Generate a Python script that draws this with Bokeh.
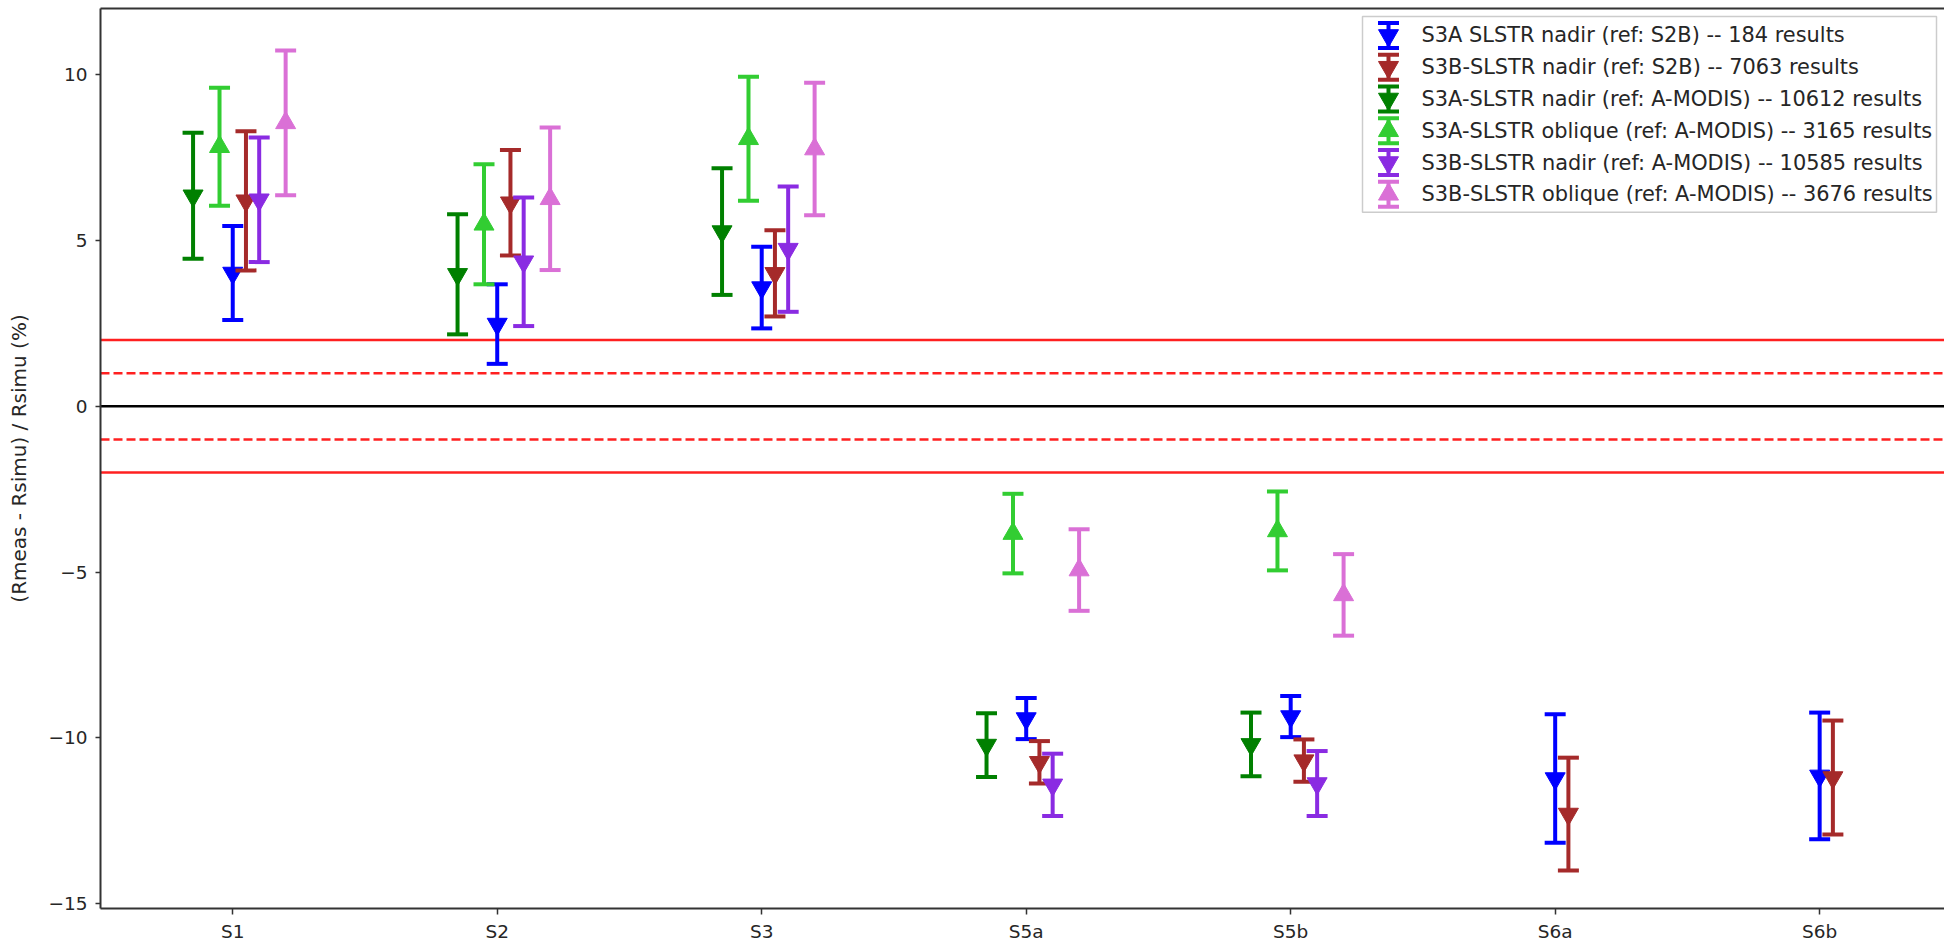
from bokeh.plotting import figure
from bokeh.models import Range1d, FixedTicker, LinearAxis, Span
from bokeh.core.properties import value
from bokeh.embed import file_html
from bokeh.resources import INLINE

# ---- data -----------------------------------------------------------------
bands = ["S1", "S2", "S3", "S5a", "S5b", "S6a", "S6b"]
y_ticks = [-15, -10, -5, 0, 5, 10]
y_tick_labels = ["\u221215", "\u221210", "\u22125", "0", "5", "10"]

all_bands = ["S1", "S2", "S3", "S5a", "S5b", "S6a", "S6b"]
vis_bands = ["S1", "S2", "S3", "S5a", "S5b"]

# S3A SLSTR nadir vs S2B
s3a_s2b_mean = [4.02, 2.48, 3.58, -9.42, -9.36, -11.23, -11.15]
s3a_s2b_err = [1.42, 1.20, 1.23, 0.62, 0.62, 1.94, 1.91]
# S3B SLSTR nadir vs S2B
s3b_s2b_mean = [6.20, 6.14, 4.01, -10.74, -10.69, -12.30, -11.20]
s3b_s2b_err = [2.10, 1.59, 1.30, 0.64, 0.64, 1.70, 1.72]
# S3A SLSTR nadir vs Aqua-MODIS
s3a_nad_modis_mean = [6.35, 3.98, 5.27, -10.22, -10.20]
s3a_nad_modis_err = [1.90, 1.81, 1.91, 0.96, 0.96]
# S3A SLSTR oblique vs Aqua-MODIS
s3a_obl_modis_mean = [7.83, 5.49, 8.07, -3.84, -3.76]
s3a_obl_modis_err = [1.78, 1.81, 1.87, 1.20, 1.19]
# S3B SLSTR nadir vs Aqua-MODIS
s3b_nad_modis_mean = [6.23, 4.36, 4.74, -11.42, -11.38]
s3b_nad_modis_err = [1.88, 1.94, 1.89, 0.94, 0.98]
# S3B SLSTR oblique vs Aqua-MODIS
s3b_obl_modis_mean = [8.55, 6.26, 7.76, -4.94, -5.69]
s3b_obl_modis_err = [2.18, 2.15, 2.00, 1.23, 1.23]

series = [
    ("S3A SLSTR nadir (ref: S2B) -- 184 results", all_bands, s3a_s2b_mean, s3a_s2b_err,
     "#0000ff", "inverted_triangle", 0.0),
    ("S3B-SLSTR nadir (ref: S2B) -- 7063 results", all_bands, s3b_s2b_mean, s3b_s2b_err,
     "#a52a2a", "inverted_triangle", 0.05),
    ("S3A-SLSTR nadir (ref: A-MODIS) -- 10612 results", vis_bands, s3a_nad_modis_mean, s3a_nad_modis_err,
     "#008000", "inverted_triangle", -0.15),
    ("S3A-SLSTR oblique (ref: A-MODIS) -- 3165 results", vis_bands, s3a_obl_modis_mean, s3a_obl_modis_err,
     "#32cd32", "triangle", -0.05),
    ("S3B-SLSTR nadir (ref: A-MODIS) -- 10585 results", vis_bands, s3b_nad_modis_mean, s3b_nad_modis_err,
     "#8a2be2", "inverted_triangle", 0.10),
    ("S3B-SLSTR oblique (ref: A-MODIS) -- 3676 results", vis_bands, s3b_obl_modis_mean, s3b_obl_modis_err,
     "#da70d6", "triangle", 0.20),
]

FONT = "DejaVu Sans"
TEXT = "#262626"
SPINE = "#333333"

W, H = 1944, 944
B_LEFT, B_TOP, B_BOTTOM = 100, 8, 35
FRAME_W, FRAME_H = W - B_LEFT, H - B_TOP - B_BOTTOM

p = figure(width=W, height=H, output_backend="svg", toolbar_location=None,
           x_range=Range1d(-0.5, 6.472), y_range=Range1d(-15.15, 12.0),
           min_border_left=B_LEFT, min_border_right=0,
           min_border_top=B_TOP, min_border_bottom=B_BOTTOM,
           background_fill_color="white", border_fill_color="white",
           outline_line_color=None)
p.grid.visible = False

# pixel-like ranges used for the legend block (origin at the frame's top-left)
p.extra_x_ranges = {"px": Range1d(0, FRAME_W)}
p.extra_y_ranges = {"px": Range1d(FRAME_H, 0)}

# ---- axes -------------------------------------------------------------------
xa = p.xaxis[0]
xa.ticker = FixedTicker(ticks=list(range(len(bands))))
xa.major_label_overrides = {i: b for i, b in enumerate(bands)}
ya = p.yaxis[0]
ya.ticker = FixedTicker(ticks=y_ticks)
ya.major_label_overrides = {t: l for t, l in zip(y_ticks, y_tick_labels)}
ya.axis_label = "(Rmeas - Rsimu) / Rsimu (%)"
ya.axis_label_text_font = FONT
ya.axis_label_text_font_size = "20px"
ya.axis_label_text_font_style = "normal"
ya.axis_label_text_color = TEXT
ya.axis_label_standoff = 14

for ax, out, stand in ((xa, 6, 6), (ya, 5, 8)):
    ax.axis_line_color = SPINE
    ax.axis_line_width = 2
    ax.major_tick_line_color = SPINE
    ax.major_tick_line_width = 1.5
    ax.major_tick_in = 0
    ax.major_tick_out = out
    ax.minor_tick_line_color = None
    ax.major_label_standoff = stand
    ax.major_label_text_font = FONT
    ax.major_label_text_font_size = "18.5px"
    ax.major_label_text_color = TEXT

top = LinearAxis(ticker=FixedTicker(ticks=[]), axis_line_color=SPINE, axis_line_width=2,
                 major_tick_line_color=None, minor_tick_line_color=None,
                 major_label_text_font_size="0px")
p.add_layout(top, "above")

# ---- reference lines ------------------------------------------------------
for loc, color, dash in ((2, "#ff2020", "solid"), (-2, "#ff2020", "solid"),
                         (1, "#ff2020", "9 4"), (-1, "#ff2020", "9 4"),
                         (0, "#000000", "solid")):
    p.add_layout(Span(location=loc, dimension="width", line_color=color,
                      line_width=2.5, line_dash=dash, level="underlay"))


def errorbars(xs, ys, lo, hi, color, marker, **rng):
    p.segment(x0=xs, y0=lo, x1=xs, y1=hi, line_color=color, line_width=4, **rng)
    p.scatter(x=xs + xs, y=lo + hi, marker="dash", size=21, line_color=color,
              line_width=4, **rng)
    p.scatter(x=xs, y=ys, marker=marker, size=20, fill_color=color,
              line_color=color, line_width=1, **rng)


# ---- error bars -----------------------------------------------------------
for label, sb, mean, err, color, marker, shift in series:
    xs = [bands.index(b) + shift for b in sb]
    lo = [m - e for m, e in zip(mean, err)]
    hi = [m + e for m, e in zip(mean, err)]
    errorbars(xs, list(mean), lo, hi, color, marker)

# ---- legend ---------------------------------------------------------------
LEG_L, LEG_R, LEG_T, LEG_B = 1262, 1836, 8, 204
ROW0, PITCH, ICON_X, TEXT_X, HALF = 27, 31.8, 1288, 1321, 12.5
px = dict(x_range_name="px", y_range_name="px")

p.quad(left=[LEG_L], right=[LEG_R], top=[LEG_T], bottom=[LEG_B],
       fill_color="white", fill_alpha=0.85, line_color="#cccccc", line_width=1.5, **px)
rows = [ROW0 + i * PITCH for i in range(len(series))]
for (label, sb, mean, err, color, marker, shift), cy in zip(series, rows):
    errorbars([ICON_X], [cy], [cy - HALF], [cy + HALF], color, marker, **px)
p.text(x=[TEXT_X] * len(series), y=rows, text=[s[0] for s in series],
       text_font=value(FONT), text_font_size="20.9px", text_baseline="middle",
       text_color=TEXT, **px)

open("out.html", "w").write(file_html(p, INLINE))
